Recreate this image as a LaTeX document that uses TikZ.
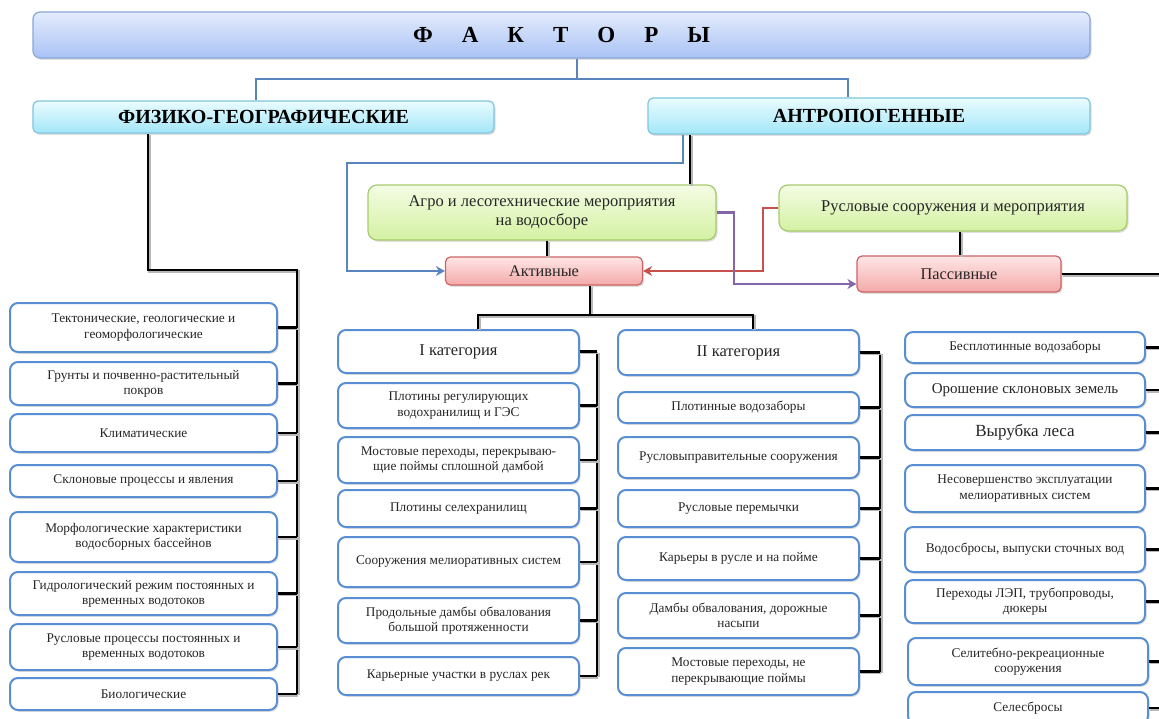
\documentclass[tikz,border=0pt]{standalone}
\usepackage{fontspec}
\setmainfont{Liberation Serif}
\usetikzlibrary{shadows,arrows.meta}
\definecolor{bxblue}{HTML}{5A8ED2}
\definecolor{txt}{HTML}{262626}
\definecolor{lnblue}{HTML}{5A84BE}
\definecolor{lnred}{HTML}{C8504D}
\definecolor{lnpur}{HTML}{8466A8}
\definecolor{ttop}{HTML}{E4ECFD}
\definecolor{tbot}{HTML}{A9C2F4}
\definecolor{tbrd}{HTML}{8AA6DA}
\definecolor{ctop}{HTML}{EAFCFF}
\definecolor{cbot}{HTML}{A3E6F8}
\definecolor{cbrd}{HTML}{7FC6DE}
\definecolor{gtop}{HTML}{F4FCE4}
\definecolor{gbot}{HTML}{D4F1A2}
\definecolor{gbrd}{HTML}{A6CB6E}
\definecolor{ptop}{HTML}{FFE6E6}
\definecolor{pbot}{HTML}{F4A9A9}
\definecolor{pbrd}{HTML}{CC6464}
\tikzset{
  shd/.style={drop shadow={opacity=0.25,shadow xshift=1.5pt,shadow yshift=-1.8pt}},
  wbox/.style={draw=bxblue, line width=2pt, rounded corners=8pt, fill=white, align=center,
    inner sep=2pt, text=txt, font=\fontsize{13.3}{15.2}\selectfont, shd},
  titlebox/.style={draw=tbrd, line width=1.2pt, rounded corners=7pt, top color=ttop, bottom color=tbot,
    text=black, font=\fontsize{23}{27}\selectfont\bfseries, shd},
  cyanbox/.style={draw=cbrd, line width=1.2pt, rounded corners=5pt, top color=ctop, bottom color=cbot,
    text=black, font=\fontsize{20}{23}\selectfont\bfseries, shd},
  greenbox/.style={draw=gbrd, line width=1.2pt, rounded corners=9pt, top color=gtop, bottom color=gbot,
    align=center, text=txt, font=\fontsize{16.5}{19}\selectfont, shd},
  pinkbox/.style={draw=pbrd, line width=1.2pt, rounded corners=5pt, top color=ptop, bottom color=pbot,
    text=txt, font=\fontsize{16.3}{19}\selectfont, shd},
  conn/.style={line width=2.6pt, black,
    preaction={draw=black!28, line width=2.6pt, transform canvas={shift={(1.3pt,-1.3pt)}}}},
  bconn/.style={line width=2.6pt, lnblue},
  barrow/.style={line width=2.6pt, lnblue, -{Stealth[length=9pt,width=10pt]}},
  rarrow/.style={line width=2.6pt, lnred, -{Stealth[length=9pt,width=10pt]}},
  parrow/.style={line width=2.6pt, lnpur, -{Stealth[length=9pt,width=10pt]}},
}
\begin{document}
\begin{tikzpicture}[x=1pt,y=-1pt]
\useasboundingbox (0,0) rectangle (1159,718);
\clip (0,0) rectangle (1159,718);
\fill[white] (0,0) rectangle (1159,718);

% headers
\node[titlebox, minimum width=1057pt, minimum height=46pt] (title) at (561.5,35)
  {Ф\hspace{29pt}А\hspace{29pt}К\hspace{29pt}Т\hspace{29pt}О\hspace{29pt}Р\hspace{29pt}Ы};
\node[cyanbox, minimum width=461pt, minimum height=32pt] (phys) at (263.5,117) {ФИЗИКО-ГЕОГРАФИЧЕСКИЕ};
\node[cyanbox, minimum width=442pt, minimum height=36pt] (anthro) at (869,116) {АНТРОПОГЕННЫЕ};

\node[greenbox, minimum width=348pt, minimum height=55pt] (agro) at (542,212.5)
  {Агро и лесотехнические мероприятия\\на водосборе};
\node[greenbox, minimum width=348pt, minimum height=46pt] (rus) at (953,208)
  {Русловые сооружения и мероприятия};
\node[pinkbox, minimum width=197pt, minimum height=28pt] (act) at (544,271) {Активные};
\node[pinkbox, minimum width=204pt, minimum height=36pt] (pas) at (959,274) {Пассивные};

% left column
\node[wbox, minimum width=267pt, minimum height=49pt] (l1) at (143.5,327.5) {Тектонические, геологические и\\геоморфологические};
\node[wbox, minimum width=267pt, minimum height=43pt] (l2) at (143.5,383.5) {Грунты и почвенно-растительный\\покров};
\node[wbox, minimum width=267pt, minimum height=38pt] (l3) at (143.5,433) {Климатические};
\node[wbox, minimum width=267pt, minimum height=32pt] (l4) at (143.5,481) {Склоновые процессы и явления};
\node[wbox, minimum width=267pt, minimum height=50pt] (l5) at (143.5,537) {Морфологические характеристики\\водосборных бассейнов};
\node[wbox, minimum width=267pt, minimum height=43pt] (l6) at (143.5,593.5) {Гидрологический режим постоянных и\\временных водотоков};
\node[wbox, minimum width=267pt, minimum height=46pt] (l7) at (143.5,647) {Русловые процессы постоянных и\\временных водотоков};
\node[wbox, minimum width=267pt, minimum height=32pt] (l8) at (143.5,694) {Биологические};

% column I
\node[wbox, minimum width=241pt, minimum height=43pt, font=\fontsize{16.5}{19}\selectfont] (c1) at (458.5,351.5) {I категория};
\node[wbox, minimum width=241pt, minimum height=45pt] (c1a) at (458.5,405.5) {Плотины регулирующих\\водохранилищ и ГЭС};
\node[wbox, minimum width=241pt, minimum height=46pt] (c1b) at (458.5,460) {Мостовые переходы, перекрываю-\\щие поймы сплошной дамбой};
\node[wbox, minimum width=241pt, minimum height=37pt] (c1c) at (458.5,508.5) {Плотины селехранилищ};
\node[wbox, minimum width=241pt, minimum height=50pt] (c1d) at (458.5,562) {Сооружения мелиоративных систем};
\node[wbox, minimum width=241pt, minimum height=45pt] (c1e) at (458.5,620.5) {Продольные дамбы обвалования\\большой протяженности};
\node[wbox, minimum width=241pt, minimum height=38pt] (c1f) at (458.5,676) {Карьерные участки в руслах рек};

% column II
\node[wbox, minimum width=241pt, minimum height=45pt, font=\fontsize{16.5}{19}\selectfont] (c2) at (738.5,352.5) {II категория};
\node[wbox, minimum width=241pt, minimum height=31pt] (c2a) at (738.5,407.5) {Плотинные водозаборы};
\node[wbox, minimum width=241pt, minimum height=41pt] (c2b) at (738.5,457.5) {Русловыправительные сооружения};
\node[wbox, minimum width=241pt, minimum height=37pt] (c2c) at (738.5,508.5) {Русловые перемычки};
\node[wbox, minimum width=241pt, minimum height=43pt] (c2d) at (738.5,558.5) {Карьеры в русле и на пойме};
\node[wbox, minimum width=241pt, minimum height=45pt] (c2e) at (738.5,615.5) {Дамбы обвалования, дорожные\\насыпи};
\node[wbox, minimum width=241pt, minimum height=47pt] (c2f) at (738.5,671.5) {Мостовые переходы, не\\перекрывающие поймы};

% right column
\node[wbox, minimum width=240pt, minimum height=31pt] (r1) at (1025,347.5) {Бесплотинные водозаборы};
\node[wbox, minimum width=240pt, minimum height=34pt, font=\fontsize{15}{17}\selectfont] (r2) at (1025,390) {Орошение склоновых земель};
\node[wbox, minimum width=240pt, minimum height=35pt, font=\fontsize{17}{20}\selectfont] (r3) at (1025,432.5) {Вырубка леса};
\node[wbox, minimum width=240pt, minimum height=47pt] (r4) at (1025,488.5) {Несовершенство эксплуатации\\мелиоративных систем};
\node[wbox, minimum width=240pt, minimum height=45pt] (r5) at (1025,549.5) {Водосбросы, выпуски сточных вод};
\node[wbox, minimum width=240pt, minimum height=43pt] (r6) at (1025,601.5) {Переходы ЛЭП, трубопроводы,\\дюкеры};
\node[wbox, minimum width=240pt, minimum height=47pt] (r7) at (1028,661.5) {Селитебно-рекреационные\\сооружения};
\node[wbox, minimum width=240pt, minimum height=32pt] (r8) at (1028,708) {Селесбросы};

% junction coordinates
\coordinate (tj) at (577,79);
\coordinate (tl) at (256,79);
\coordinate (tr) at (848,79);
\coordinate (pj) at (148,270);
\coordinate (lj) at (297,270);
\coordinate (lb) at (297,694);
\coordinate (ab) at (683,163);
\coordinate (al) at (347,163);
\coordinate (ak) at (690,150);
\coordinate (ag) at (547,250);
\coordinate (rg) at (960,245);
\coordinate (rr) at (763,208);
\coordinate (pp) at (734,284);
\coordinate (redge) at (1165,0);
\coordinate (aj) at (590,315);
\coordinate (c1j) at (478,315);
\coordinate (c2j) at (753,315);
\coordinate (v1) at (597,351.5);
\coordinate (v1b) at (597,676);
\coordinate (v2) at (880,352.5);
\coordinate (v2b) at (880,671.5);

% title connectors
\draw[bconn] (title.south -| tj) -- (tj);
\draw[bconn] (phys.north -| tl) -- (tl) -- (tr) -- (anthro.north -| tr);

% left branch
\draw[conn] (phys.south -| pj) -- (pj) -- (lj) -- (lb);
\foreach \n in {l1,l2,l3,l4,l5,l6,l7,l8} \draw[conn] (\n.east) -- (\n.east -| lj);

% anthropogenic
\draw[barrow] (anthro.south -| ab) -- (ab) -- (al) |- (act.west);
\draw[conn] (anthro.south -| ak) -- (agro.north -| ak);
\draw[conn] (agro.south -| ag) -- (act.north -| ag);
\draw[conn] (rus.south -| rg) -- (pas.north -| rg);
\draw[rarrow] (rus.west) -- (rus.west -| rr) |- (act.east);
\draw[parrow] (agro.east) -- (agro.east -| pp) -- (pp) -- (pas.west |- pp);
\draw[conn] (pas.east) -- (pas.east -| redge);

% active categories
\draw[conn] (act.south -| aj) -- (aj);
\draw[conn] (c1.north -| c1j) -- (c1j) -- (c2j) -- (c2.north -| c2j);
\draw[conn] (v1) -- (v1b);
\foreach \n in {c1,c1a,c1b,c1c,c1d,c1e,c1f} \draw[conn] (\n.east) -- (\n.east -| v1);
\draw[conn] (v2) -- (v2b);
\foreach \n in {c2,c2a,c2b,c2c,c2d,c2e,c2f} \draw[conn] (\n.east) -- (\n.east -| v2);

% passive stubs
\foreach \n in {r1,r2,r3,r4,r5,r6,r7,r8} \draw[conn] (\n.east) -- (\n.east -| redge);
\end{tikzpicture}
\end{document}
